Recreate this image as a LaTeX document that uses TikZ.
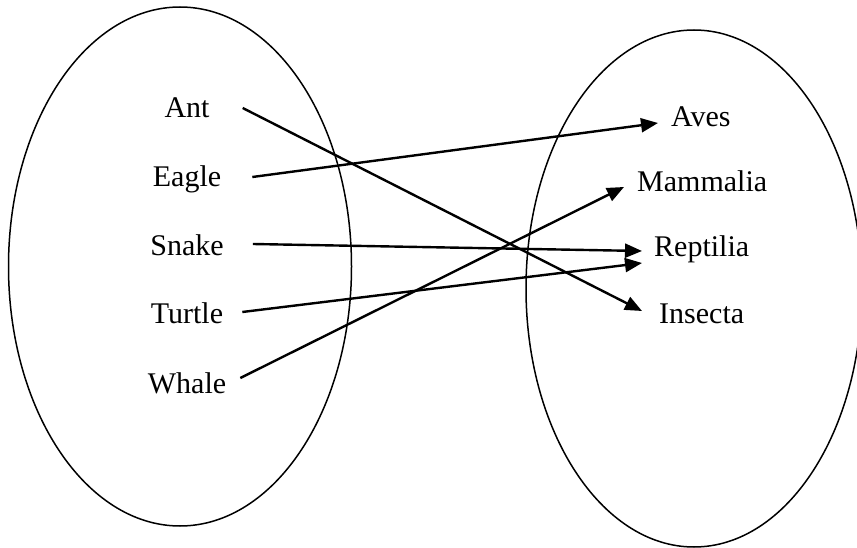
\documentclass[tikz,border=0pt]{standalone}
\usepackage{fontspec}
\setmainfont{Liberation Serif}
\usetikzlibrary{arrows.meta,calc}
\tikzset{
  lbl/.style={inner sep=0pt, font=\fontsize{30}{36}\selectfont},
  llbl/.style={lbl, anchor=base},
  rlbl/.style={lbl, anchor=base west},
  setline/.style={line width=1.5pt},
  mapline/.style={line width=2.4pt, -{Triangle[length=17pt,width=14pt]}}
}
\begin{document}
\begin{tikzpicture}[x=1pt,y=-1pt]
\path[use as bounding box, clip] (0,0) rectangle (857,548);
\fill[white] (0,0) rectangle (857,548);
% sets
\draw[setline] (180,266.5) ellipse [x radius=171.5pt, y radius=259.5pt];
\draw[setline] (694,288.5) ellipse [x radius=168pt, y radius=258.5pt];
% left labels
\node[llbl] (ant)    at (187,118) {Ant};
\node[llbl] (eagle)  at (187,187) {Eagle};
\node[llbl] (snake)  at (187,256) {Snake};
\node[llbl] (turtle) at (187,323) {Turtle};
\node[llbl] (whale)  at (187,393) {Whale};
% right labels
\node[rlbl] (aves)     at (671,127) {Aves};
\node[rlbl] (mammalia) at (637,192) {Mammalia};
\node[rlbl] (reptilia) at (654,257) {Reptilia};
\node[rlbl] (insecta)  at (659,323) {Insecta};
% connector ends
\coordinate (antO)    at ($(ant.base east)+(33,-10)$);
\coordinate (eagleO)  at ($(eagle.base east)+(31,-10)$);
\coordinate (snakeO)  at ($(snake.base east)+(29,-12)$);
\coordinate (turtleO) at ($(turtle.base east)+(19,-11)$);
\coordinate (whaleO)  at ($(whale.base east)+(14,-15)$);
\coordinate (avesI)   at ($(aves.base west)+(-13,-4)$);
\coordinate (mamI)    at ($(mammalia.base west)+(-13,-5)$);
\coordinate (repI1)   at ($(reptilia.base west)+(-12,-6)$);
\coordinate (repI2)   at ($(reptilia.base west)+(-12,6)$);
\coordinate (insI)    at ($(insecta.base west)+(-17,-12)$);
% mapping
\draw[mapline] (antO) -- (insI);
\draw[mapline] (eagleO) -- (avesI);
\draw[mapline] (snakeO) -- (repI1);
\draw[mapline] (turtleO) -- (repI2);
\draw[mapline] (whaleO) -- (mamI);
\end{tikzpicture}
\end{document}
